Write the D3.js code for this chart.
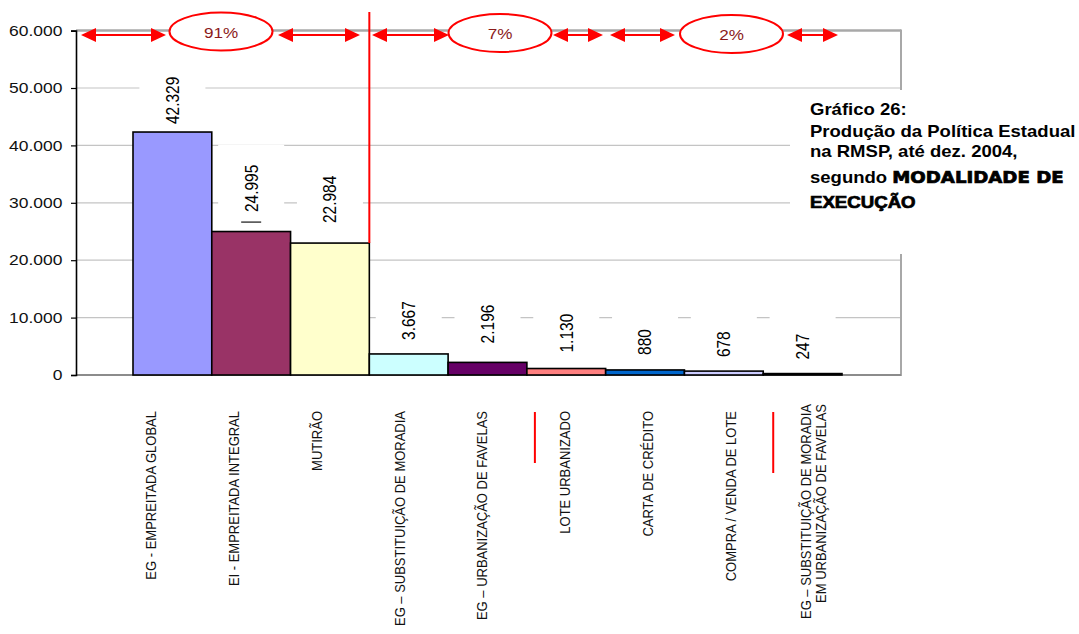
<!DOCTYPE html>
<html><head><meta charset="utf-8">
<script src="https://cdn.jsdelivr.net/npm/d3@7"></script>
<style>
body{margin:0;background:#fff}
svg{display:block}
text{font-family:"Liberation Sans",Arial,Helvetica,sans-serif}
</style>
</head><body>
<svg id="c" width="1079" height="634"></svg>
<script>
// ---------- DATA ----------
const categories = [
  "EG - EMPREITADA GLOBAL",
  "EI - EMPREITADA INTEGRAL",
  "MUTIRÃO",
  "EG – SUBSTITUIÇÃO DE MORADIA",
  "EG – URBANIZAÇÃO DE FAVELAS",
  "LOTE URBANIZADO",
  "CARTA DE CRÉDITO",
  "COMPRA / VENDA DE LOTE",
  "EG – SUBSTITUIÇÃO DE MORADIA\nEM URBANIZAÇÃO DE FAVELAS"
];
const values = [42329, 24995, 22984, 3667, 2196, 1130, 880, 678, 247];
const barColors = ["#9999ff","#993366","#ffffcc","#ccffff","#660066","#ff8080","#0066cc","#ccccff","#000080"];
const yTicks = [0, 10000, 20000, 30000, 40000, 50000, 60000];
const groupShares = ["91%", "7%", "2%"];
const titleLines = ["Gráfico 26:", "Produção da Política Estadual", "na RMSP, até dez. 2004,"];
const titleSegundo = "segundo ";
const titleHeavy = ["MODALIDADE DE", "EXECUÇÃO"];

// ---------- SETUP ----------
const SX = 1.18; // horizontal stretch of text in the reference
const svg = d3.select("#c");
const locale = d3.formatLocale({decimal: ",", thousands: ".", grouping: [3], currency: ["", ""]});
const fmt = locale.format(",d");

const plotL = 76, plotR = 901;
const x = d3.scaleBand().domain(categories).range([133, 842]).padding(0);
const y = d3.scaleLinear().domain([0, 60000]).range([375, 30.6]);
const xl = d3.scalePoint().domain(categories).range([151, 813]);
const labelGap = [8, 19.5, 20, 14, 19, 16, 15, 14, 14]; // label distance above bar (layout)

// gridlines
svg.append("g").selectAll("line").data(yTicks.filter(t => t > 0 && t < 60000)).join("line")
  .attr("x1", plotL).attr("x2", plotR).attr("y1", d => y(d)).attr("y2", d => y(d))
  .attr("stroke", "#c4c4c4").attr("stroke-width", 1.2);
// top border (60000)
svg.append("line").attr("x1", plotL).attr("x2", plotR).attr("y1", y(60000)).attr("y2", y(60000))
  .attr("stroke", "#a8a8a8").attr("stroke-width", 2.5);
// right border
svg.append("line").attr("x1", plotR).attr("x2", plotR).attr("y1", y(60000) - 1).attr("y2", y(0) + 1)
  .attr("stroke", "#a8a8a8").attr("stroke-width", 2);
// zero line
svg.append("line").attr("x1", plotL).attr("x2", plotR).attr("y1", y(0)).attr("y2", y(0))
  .attr("stroke", "#8c8c8c").attr("stroke-width", 1.8);

// data label boxes (white) then bars then labels
const labG = svg.append("g");
const labels = labG.selectAll("g").data(values).join("g");
labels.each(function(v, i) {
  const g = d3.select(this);
  const cx = x(categories[i]) + x.bandwidth() / 2;
  const bottom = y(v) - labelGap[i];
  const t = g.append("text")
    .attr("transform", `translate(${cx},${bottom}) scale(${SX},1) rotate(-90)`)
    .attr("dy", "0.35em").attr("text-anchor", "start")
    .attr("font-size", 15.5).attr("fill", "#000").text(fmt(v));
  const len = t.node().getComputedTextLength();
  g.insert("rect", "text").attr("x", cx - 33).attr("width", 66)
    .attr("y", bottom - len - 20).attr("height", len + 24).attr("fill", "#fff");
});

svg.insert("g", () => labG.node()).selectAll("rect").data(values).join("rect")
  .attr("x", (d, i) => x(categories[i])).attr("width", x.bandwidth())
  .attr("y", d => y(d)).attr("height", d => y(0) - y(d))
  .attr("fill", (d, i) => barColors[i]).attr("stroke", "#000").attr("stroke-width", 1.6);

// small leader dash under second label
svg.append("rect")
  .attr("x", x(categories[1]) + x.bandwidth() / 2 - 10).attr("width", 20)
  .attr("y", y(values[1]) - 10).attr("height", 1.1)
  .attr("fill", "#000");

// y axis
const ya = svg.append("g").attr("transform", `translate(${plotL},0)`)
  .call(d3.axisLeft(y).tickValues(yTicks).tickSize(5).tickPadding(6.5).tickFormat(fmt));
ya.select(".domain").attr("stroke", "#000").attr("stroke-width", 1.6);
ya.selectAll(".tick line").attr("stroke", "#000").attr("stroke-width", 1.2);
ya.selectAll(".tick text").attr("font-size", 14.8).attr("fill", "#111")
  .attr("font-family", '"Liberation Sans",Arial,sans-serif')
  .attr("transform", `scale(${SX},1)`);

// red divider between groups
svg.append("line").attr("x1", x(categories[3])).attr("x2", x(categories[3]))
  .attr("y1", 12).attr("y2", y(values[2]))
  .attr("stroke", "#ff0000").attr("stroke-width", 2);

// category labels
categories.forEach(c => {
  const lines = c.split("\n");
  const top = lines.length > 1 ? 404 : 411;
  const t = svg.append("text")
    .attr("transform", `translate(${xl(c)},${top}) scale(${SX},1) rotate(-90)`)
    .attr("text-anchor", "end").attr("font-size", 13).attr("fill", "#111");
  lines.forEach((ln, k) => {
    t.append("tspan").attr("x", 0)
      .attr("dy", k === 0 ? (0.35 - (lines.length - 1) * 0.49) + "em" : "0.98em")
      .text(ln);
  });
});
// red separator marks among category labels
[[5, 8, 463], [8, 10, 473]].forEach(([i, off, y2]) => {
  svg.append("line").attr("x1", x(categories[i]) + off).attr("x2", x(categories[i]) + off)
    .attr("y1", 412).attr("y2", y2).attr("stroke", "#ff0000").attr("stroke-width", 2);
});

// top annotation: double arrows and percentage ellipses
const ay = 35;
const arrowSpans = [[81,166],[278,360],[372,449],[553,603],[610,675],[787,838]];
const ann = svg.append("g");
arrowSpans.forEach(([a, b]) => {
  ann.append("line").attr("x1", a + 12).attr("x2", b - 12).attr("y1", ay).attr("y2", ay)
    .attr("stroke", "#ff0000").attr("stroke-width", 2);
  ann.append("path").attr("d", `M${a},${ay} L${a + 15},${ay - 7} L${a + 15},${ay + 7} Z`).attr("fill", "#ff0000");
  ann.append("path").attr("d", `M${b},${ay} L${b - 15},${ay - 7} L${b - 15},${ay + 7} Z`).attr("fill", "#ff0000");
});
const ellCx = [221, 500, 731.5], ellCy = [31.5, 33, 34];
groupShares.forEach((s, i) => {
  ann.append("ellipse").attr("cx", ellCx[i]).attr("cy", ellCy[i]).attr("rx", 51.5).attr("ry", 19)
    .attr("fill", "#fff").attr("stroke", "#ff0000").attr("stroke-width", 2);
  ann.append("text").attr("transform", `translate(${ellCx[i]},${ellCy[i] + 1}) scale(${SX},1)`)
    .attr("text-anchor", "middle").attr("dy", "0.35em").attr("font-size", 14.5)
    .attr("fill", "#8b1a1a").text(s);
});

// title box
svg.append("rect").attr("x", 790).attr("y", 90).attr("width", 289).attr("height", 164).attr("fill", "#fff");
const tx = 810, baselines = [115, 137, 157, 183, 208];
titleLines.forEach((ln, i) => {
  svg.append("text").attr("transform", `translate(${tx},${baselines[i]}) scale(${SX},1)`)
    .attr("font-size", 15.7).attr("font-weight", "bold").attr("fill", "#000").text(ln);
});
const t4 = svg.append("text").attr("transform", `translate(${tx},${baselines[3]}) scale(${SX},1)`)
  .attr("font-size", 15.7).attr("font-weight", "bold").attr("fill", "#000");
t4.append("tspan").text(titleSegundo);
t4.append("tspan").attr("font-family", '"DejaVu Sans",sans-serif').attr("font-size", 15.4)
  .attr("stroke", "#000").attr("stroke-width", 0.7).text(titleHeavy[0]);
svg.append("text").attr("transform", `translate(${tx},${baselines[4]}) scale(${SX},1)`)
  .attr("font-family", '"DejaVu Sans",sans-serif').attr("font-size", 15.8).attr("font-weight", "bold")
  .attr("stroke", "#000").attr("stroke-width", 0.7)
  .attr("fill", "#000").text(titleHeavy[1]);
</script>
</body></html>
